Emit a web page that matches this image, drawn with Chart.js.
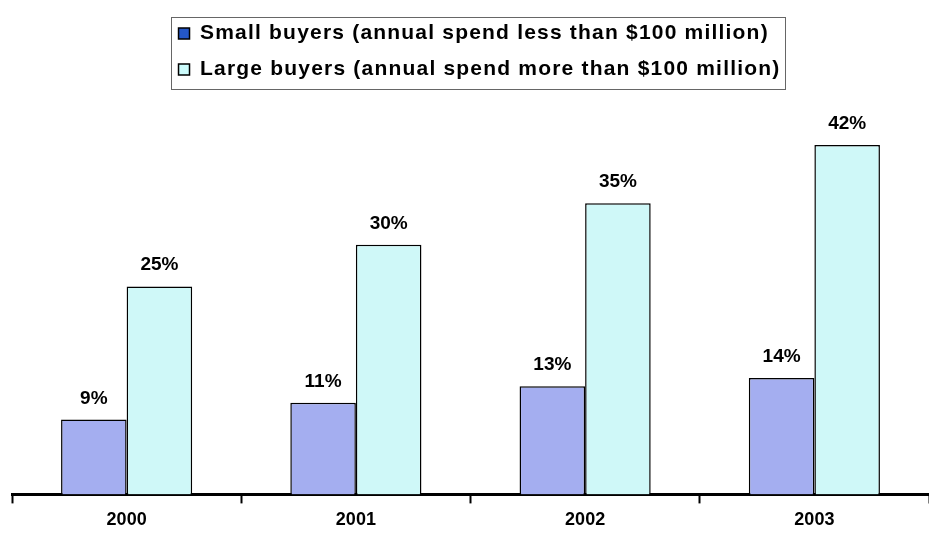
<!DOCTYPE html>
<html>
<head>
<meta charset="utf-8">
<script src="https://cdn.jsdelivr.net/npm/chart.js@4"></script>
<style>
html,body{margin:0;padding:0;background:#fff;}
#wrap{width:929px;height:538px;position:relative;}
</style>
</head>
<body>
<div id="wrap"><canvas id="c" width="929" height="538"></canvas></div>
<script>
const categories = ["2000", "2001", "2002", "2003"];
const smallBuyers = [9, 11, 13, 14];
const largeBuyers = [25, 30, 35, 42];
const seriesLabels = [
  "Small buyers (annual spend less than $100 million)",
  "Large buyers (annual spend more than $100 million)"
];
const yMax = 48.6;

const FONT = "'Liberation Sans', Arial, sans-serif";
const LEGEND_SPACING = '1.2px';
const LEGEND_SHIFT = 6;

// letter-spaced legend, rows left-aligned to each other
const spacedLegend = {
  id: 'spacedLegend',
  beforeLayout(chart) {
    const lg = chart.legend;
    if (!lg || lg._spaced) return;
    lg._spaced = true;
    const origFit = lg.fit.bind(lg);
    const origDraw = lg.draw.bind(lg);
    lg.fit = function () {
      const c = this.ctx, prev = c.letterSpacing;
      c.letterSpacing = LEGEND_SPACING;
      origFit();
      c.letterSpacing = prev;
      if (this.lineWidths && this.lineWidths.length) {
        const m = Math.max.apply(null, this.lineWidths);
        this.lineWidths = this.lineWidths.map(() => m);
      }
    };
    lg.draw = function () {
      const c = this.ctx, prev = c.letterSpacing;
      c.save();
      c.translate(LEGEND_SHIFT, 0);
      c.letterSpacing = LEGEND_SPACING;
      origDraw();
      c.letterSpacing = prev;
      c.restore();
    };
  },
  afterDraw(chart) {
    const l = chart.legend;
    if (!l || !l.legendHitBoxes.length) return;
    const ctx = chart.ctx;
    let minX = Infinity, maxX = -Infinity, minY = Infinity, maxY = -Infinity;
    l.legendHitBoxes.forEach(b => {
      minX = Math.min(minX, b.left); maxX = Math.max(maxX, b.left + b.width);
      minY = Math.min(minY, b.top); maxY = Math.max(maxY, b.top + b.height);
    });
    ctx.save();
    ctx.strokeStyle = '#666';
    ctx.lineWidth = 1;
    ctx.strokeRect(Math.round(minX - 8 + LEGEND_SHIFT) + 0.5, Math.round(minY - 6) + 0.5,
                   Math.round(maxX - minX + 12), Math.round(maxY - minY + 15));
    ctx.restore();
  }
};

const valueLabels = {
  id: 'valueLabels',
  afterDatasetsDraw(chart) {
    const ctx = chart.ctx;
    ctx.save();
    ctx.font = "bold 19px " + FONT;
    ctx.fillStyle = '#000';
    ctx.textAlign = 'center';
    ctx.textBaseline = 'alphabetic';
    chart.data.datasets.forEach((ds, di) => {
      chart.getDatasetMeta(di).data.forEach((bar, i) => {
        ctx.fillText(ds.data[i] + '%', bar.x, bar.y - 16);
      });
    });
    ctx.restore();
  }
};

new Chart(document.getElementById('c'), {
  type: 'bar',
  data: {
    labels: categories,
    datasets: [
      { label: seriesLabels[0], data: smallBuyers, backgroundColor: '#A4AEF0', borderColor: '#000', borderWidth: 1.5,
        legendColor: '#2457C9' },
      { label: seriesLabels[1], data: largeBuyers, backgroundColor: '#CFF8F8', borderColor: '#000', borderWidth: 1.5,
        legendColor: '#CCFCFC' }
    ]
  },
  options: {
    responsive: false,
    animation: false,
    devicePixelRatio: 1,
    layout: { padding: { left: 12, right: -6, top: 8, bottom: 1 } },
    datasets: { bar: { barPercentage: 1.0, categoryPercentage: 0.572 } },
    plugins: {
      tooltip: { enabled: false },
      legend: {
        position: 'top',
        align: 'center',
        labels: {
          font: { family: FONT, size: 21, weight: 'bold' },
          color: '#000',
          boxWidth: 11,
          boxHeight: 11,
          padding: 15,
          generateLabels(chart) {
            return chart.data.datasets.map((ds, i) => ({
              text: ds.label,
              fillStyle: ds.legendColor,
              strokeStyle: '#000',
              lineWidth: 1.5,
              hidden: false,
              datasetIndex: i,
              fontColor: '#000'
            }));
          }
        }
      }
    },
    scales: {
      x: {
        border: { display: true, color: '#000', width: 3 },
        grid: { display: true, offset: true, drawOnChartArea: false, drawTicks: true, tickLength: 9, tickWidth: 2, tickColor: '#000' },
        ticks: { font: { family: FONT, size: 18, weight: 'bold' }, color: '#000', padding: 6 }
      },
      y: {
        display: false,
        min: 0,
        max: yMax
      }
    }
  },
  plugins: [spacedLegend, valueLabels]
});
</script>
</body>
</html>
